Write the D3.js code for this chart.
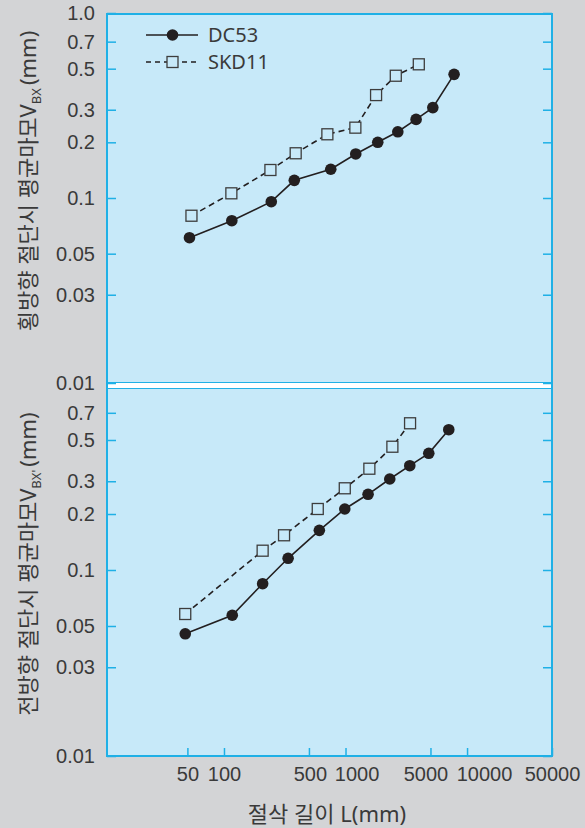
<!DOCTYPE html>
<html>
<head>
<meta charset="utf-8">
<script src="https://cdn.jsdelivr.net/npm/d3@7"></script>
<style>
	body { margin: 0; background: #d3d4d6; }
	svg { display: block; font-family: "Noto Sans", "Noto Sans CJK KR", sans-serif; }
</style>
</head>
<body>
<svg width="585" height="828"></svg>
<script>
// Cutting length L (mm) and average wear VBX (mm)
const topDC53X = [52, 116, 245, 379, 756, 1214, 1842, 2693, 3808, 5227, 7822];
const topDC53Y = [0.061, 0.0754, 0.0955, 0.1246, 0.143, 0.173, 0.200, 0.228, 0.266, 0.308, 0.466];
const topSKDX = [54, 115, 241, 389, 709, 1205, 1784, 2592, 4008];
const topSKDY = [0.0802, 0.106, 0.1417, 0.1745, 0.221, 0.240, 0.360, 0.458, 0.528];

const botDC53X = [48, 117, 208, 337, 609, 986, 1533, 2312, 3379, 4842, 7074];
const botDC53Y = [0.0454, 0.0571, 0.0844, 0.1156, 0.1634, 0.2128, 0.2553, 0.3085, 0.3638, 0.424, 0.568];
const botSKDX = [48, 208, 312, 591, 986, 1571, 2430, 3397];
const botSKDY = [0.058, 0.127, 0.1537, 0.2128, 0.275, 0.3504, 0.460, 0.615];

const xTicks = [50, 100, 500, 1000, 5000, 10000, 50000];
const topYTicks = [0.01, 0.03, 0.05, 0.1, 0.2, 0.3, 0.5, 0.7, 1.0];
const botYTicks = [0.01, 0.03, 0.05, 0.1, 0.2, 0.3, 0.5, 0.7];

const blue = "#1fb0e6";
const panelFill = "#c7e9f9";
const ink = "#231f20";
const textColor = "#3a3a3a";

const svg = d3.select("svg");
const plotLeft = 107, plotRight = 552, plotTop = 14, plotBottom = 756;
const sepTop = 383, sepBottom = 389;

const x = d3.scaleLog().domain([10.9, 50000]).range([plotLeft, plotRight]);
const yTop = d3.scaleLog().domain([0.01, 1]).range([383, 13]);
const yBot = d3.scaleLog().domain([0.01, 1]).range([plotBottom, 384]);

// panel background and the white gap between the two panels
svg.append("rect").attr("x", plotLeft).attr("y", plotTop)
	.attr("width", plotRight - plotLeft).attr("height", plotBottom - plotTop)
	.attr("fill", panelFill);
svg.append("rect").attr("x", plotLeft).attr("y", sepTop)
	.attr("width", plotRight - plotLeft).attr("height", sepBottom - sepTop)
	.attr("fill", "#fff");
[sepTop - 0.5, sepBottom - 0.5].forEach(yy => {
	svg.append("line").attr("x1", plotLeft).attr("x2", plotRight)
		.attr("y1", yy).attr("y2", yy)
		.attr("stroke", blue).attr("stroke-width", 1.2);
});

// y axes: labels on the left, ticks pointing in from both sides
function drawYAxis(scale, ticks) {
	const gl = svg.append("g").attr("transform", `translate(${plotLeft},0)`)
		.call(d3.axisLeft(scale).tickValues(ticks)
			.tickSizeInner(-9).tickSizeOuter(0).tickPadding(12)
			.tickFormat(d => d === 1 ? "1.0" : String(d)));
	gl.select(".domain").remove();
	gl.selectAll("line").attr("stroke", blue).attr("stroke-width", 1.5);
	gl.selectAll("text").attr("font-size", 20).attr("fill", textColor)
		.attr("font-family", null);

	const gr = svg.append("g").attr("transform", `translate(${plotRight},0)`)
		.call(d3.axisRight(scale).tickValues(ticks)
			.tickSizeInner(-9).tickSizeOuter(0).tickFormat(""));
	gr.select(".domain").remove();
	gr.selectAll("line").attr("stroke", blue).attr("stroke-width", 1.5);
}
drawYAxis(yTop, topYTicks);
drawYAxis(yBot, botYTicks);

// x axis with labels nudged so the crowded ones sit side by side
const nudge = { 500: 1, 1000: 11, 5000: -5, 10000: 17 };
const gx = svg.append("g").attr("transform", `translate(0,${plotBottom})`)
	.call(d3.axisBottom(x).tickValues(xTicks)
		.tickSizeInner(-8).tickSizeOuter(0).tickPadding(11)
		.tickFormat(d => String(d)));
gx.select(".domain").remove();
gx.selectAll("line").attr("stroke", blue).attr("stroke-width", 1.5);
gx.selectAll("text").attr("font-size", 20).attr("fill", textColor)
	.attr("font-family", null)
	.attr("dx", d => nudge[d] || 0);

// frame
svg.append("rect").attr("x", plotLeft).attr("y", plotTop)
	.attr("width", plotRight - plotLeft).attr("height", plotBottom - plotTop)
	.attr("fill", "none").attr("stroke", blue).attr("stroke-width", 2);

// series
function drawSeries(xs, ys, yScale, dashed) {
	const pts = xs.map((v, i) => [x(v), yScale(ys[i])]);
	svg.append("path")
		.attr("d", d3.line()(pts))
		.attr("fill", "none").attr("stroke", ink).attr("stroke-width", 1.6)
		.attr("stroke-dasharray", dashed ? "6,4" : null);
	if (dashed) {
		svg.append("g").selectAll("rect").data(pts).join("rect")
			.attr("x", d => d[0] - 5.5).attr("y", d => d[1] - 5.5)
			.attr("width", 11).attr("height", 11)
			.attr("fill", panelFill).attr("stroke", "#3d3d3d").attr("stroke-width", 1.3);
	} else {
		svg.append("g").selectAll("circle").data(pts).join("circle")
			.attr("cx", d => d[0]).attr("cy", d => d[1]).attr("r", 5.8)
			.attr("fill", ink);
	}
}
drawSeries(topDC53X, topDC53Y, yTop, false);
drawSeries(topSKDX, topSKDY, yTop, true);
drawSeries(botDC53X, botDC53Y, yBot, false);
drawSeries(botSKDX, botSKDY, yBot, true);

// legend
const legend = svg.append("g");
legend.append("line").attr("x1", 146).attr("x2", 198).attr("y1", 35).attr("y2", 35)
	.attr("stroke", ink).attr("stroke-width", 1.6);
legend.append("circle").attr("cx", 172.5).attr("cy", 35).attr("r", 5.8).attr("fill", ink);
legend.append("line").attr("x1", 146).attr("x2", 198).attr("y1", 62).attr("y2", 62)
	.attr("stroke", ink).attr("stroke-width", 1.6).attr("stroke-dasharray", "5,4");
legend.append("rect").attr("x", 167).attr("y", 56.5).attr("width", 11).attr("height", 11)
	.attr("fill", panelFill).attr("stroke", "#3d3d3d").attr("stroke-width", 1.3);
legend.append("text").attr("x", 208).attr("y", 42).attr("font-size", 20)
	.attr("fill", textColor).text("DC53");
legend.append("text").attr("x", 208).attr("y", 69).attr("font-size", 20)
	.attr("fill", textColor).text("SKD11");

// axis titles
svg.append("text").attr("x", 327).attr("y", 822).attr("text-anchor", "middle")
	.attr("font-size", 22).attr("fill", textColor).text("절삭 길이 L(mm)");

function yTitle(cy, main, sub) {
	const t = svg.append("text")
		.attr("transform", `translate(36,${cy}) rotate(-90)`)
		.attr("text-anchor", "middle").attr("font-size", 22).attr("fill", textColor);
	t.append("tspan").text(main);
	t.append("tspan").attr("font-size", 13).attr("dy", 5).text(sub);
	t.append("tspan").attr("dy", -5).attr("dx", 3).text("(mm)");
}
yTitle(181, "횡방향 절단시 평균마모V", "BX");
yTitle(564, "전방향 절단시 평균마모V", "BX'");
</script>
</body>
</html>
